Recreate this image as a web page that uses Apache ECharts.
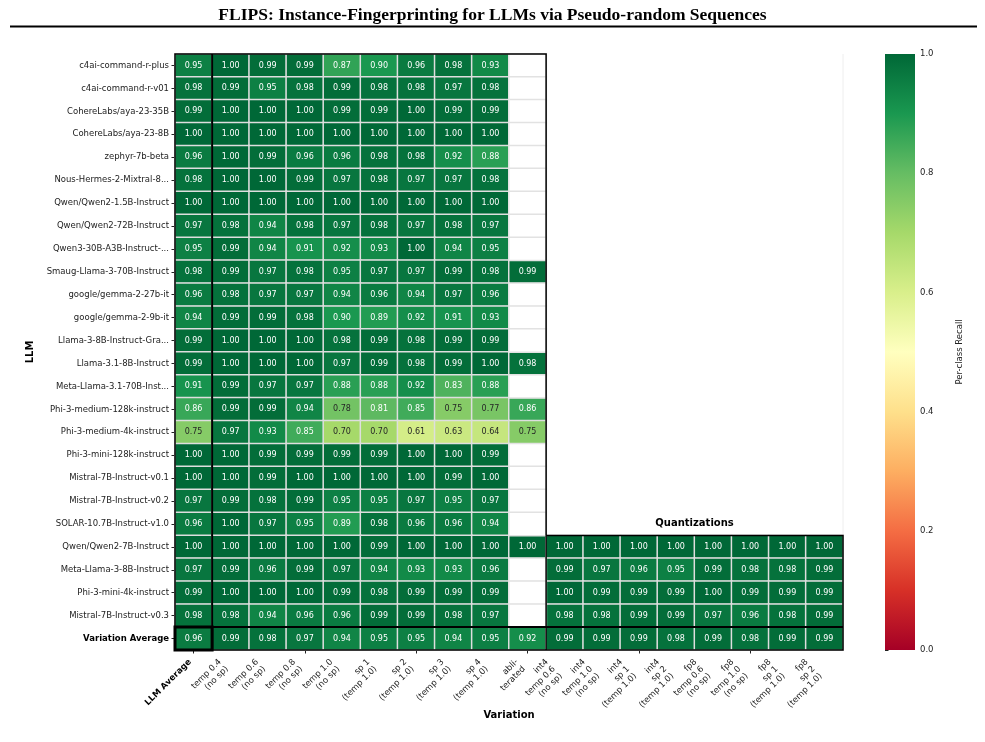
<!DOCTYPE html>
<html>
<head>
<meta charset="utf-8">
<script src="https://cdn.jsdelivr.net/npm/echarts@6/dist/echarts.min.js"></script>
<style>
  html, body { margin: 0; padding: 0; background: #fff; }
  #chart { width: 985px; height: 742px; }
</style>
</head>
<body>
<div id="chart"></div>
<script>
// 行：模型
const models = [
  "c4ai-command-r-plus", "c4ai-command-r-v01", "CohereLabs/aya-23-35B", "CohereLabs/aya-23-8B",
  "zephyr-7b-beta", "Nous-Hermes-2-Mixtral-8...", "Qwen/Qwen2-1.5B-Instruct", "Qwen/Qwen2-72B-Instruct",
  "Qwen3-30B-A3B-Instruct-...", "Smaug-Llama-3-70B-Instruct", "google/gemma-2-27b-it", "google/gemma-2-9b-it",
  "Llama-3-8B-Instruct-Gra...", "Llama-3.1-8B-Instruct", "Meta-Llama-3.1-70B-Inst...", "Phi-3-medium-128k-instruct",
  "Phi-3-medium-4k-instruct", "Phi-3-mini-128k-instruct", "Mistral-7B-Instruct-v0.1", "Mistral-7B-Instruct-v0.2",
  "SOLAR-10.7B-Instruct-v1.0", "Qwen/Qwen2-7B-Instruct", "Meta-Llama-3-8B-Instruct", "Phi-3-mini-4k-instruct",
  "Mistral-7B-Instruct-v0.3", "Variation Average",
];

// 列：变体
const variations = [
  "LLM Average",
  "temp 0.4\n(no sp)", "temp 0.6\n(no sp)", "temp 0.8\n(no sp)", "temp 1.0\n(no sp)",
  "sp 1\n(temp 1.0)", "sp 2\n(temp 1.0)", "sp 3\n(temp 1.0)", "sp 4\n(temp 1.0)",
  "abli-\nterated",
  "int4\ntemp 0.6\n(no sp)", "int4\ntemp 1.0\n(no sp)", "int4\nsp 1\n(temp 1.0)", "int4\nsp 2\n(temp 1.0)",
  "fp8\ntemp 0.6\n(no sp)", "fp8\ntemp 1.0\n(no sp)", "fp8\nsp 1\n(temp 1.0)", "fp8\nsp 2\n(temp 1.0)",
];

const llmAverage = [
  0.95, 0.98, 0.99, 1.00, 0.96, 0.98, 1.00, 0.97, 0.95, 0.98, 0.96, 0.94, 0.99,
  0.99, 0.91, 0.86, 0.75, 1.00, 1.00, 0.97, 0.96, 1.00, 0.97, 0.99, 0.98, 0.96,
];

// temp 0.4 .. sp 4
const samplingScores = [
  [1.00, 0.99, 0.99, 0.87, 0.90, 0.96, 0.98, 0.93],
  [0.99, 0.95, 0.98, 0.99, 0.98, 0.98, 0.97, 0.98],
  [1.00, 1.00, 1.00, 0.99, 0.99, 1.00, 0.99, 0.99],
  [1.00, 1.00, 1.00, 1.00, 1.00, 1.00, 1.00, 1.00],
  [1.00, 0.99, 0.96, 0.96, 0.98, 0.98, 0.92, 0.88],
  [1.00, 1.00, 0.99, 0.97, 0.98, 0.97, 0.97, 0.98],
  [1.00, 1.00, 1.00, 1.00, 1.00, 1.00, 1.00, 1.00],
  [0.98, 0.94, 0.98, 0.97, 0.98, 0.97, 0.98, 0.97],
  [0.99, 0.94, 0.91, 0.92, 0.93, 1.00, 0.94, 0.95],
  [0.99, 0.97, 0.98, 0.95, 0.97, 0.97, 0.99, 0.98],
  [0.98, 0.97, 0.97, 0.94, 0.96, 0.94, 0.97, 0.96],
  [0.99, 0.99, 0.98, 0.90, 0.89, 0.92, 0.91, 0.93],
  [1.00, 1.00, 1.00, 0.98, 0.99, 0.98, 0.99, 0.99],
  [1.00, 1.00, 1.00, 0.97, 0.99, 0.98, 0.99, 1.00],
  [0.99, 0.97, 0.97, 0.88, 0.88, 0.92, 0.83, 0.88],
  [0.99, 0.99, 0.94, 0.78, 0.81, 0.85, 0.75, 0.77],
  [0.97, 0.93, 0.85, 0.70, 0.70, 0.61, 0.63, 0.64],
  [1.00, 0.99, 0.99, 0.99, 0.99, 1.00, 1.00, 0.99],
  [1.00, 0.99, 1.00, 1.00, 1.00, 1.00, 0.99, 1.00],
  [0.99, 0.98, 0.99, 0.95, 0.95, 0.97, 0.95, 0.97],
  [1.00, 0.97, 0.95, 0.89, 0.98, 0.96, 0.96, 0.94],
  [1.00, 1.00, 1.00, 1.00, 0.99, 1.00, 1.00, 1.00],
  [0.99, 0.96, 0.99, 0.97, 0.94, 0.93, 0.93, 0.96],
  [1.00, 1.00, 1.00, 0.99, 0.98, 0.99, 0.99, 0.99],
  [0.98, 0.94, 0.96, 0.96, 0.99, 0.99, 0.98, 0.97],
  [0.99, 0.98, 0.97, 0.94, 0.95, 0.95, 0.94, 0.95],
];

const abliterated = [
  null, null, null, null, null, null, null, null, null, 0.99, null, null, null,
  0.98, null, 0.86, 0.75, null, null, null, null, 1.00, null, null, null, 0.92,
];

// 量化（只有最后 5 行）
const quantFirstRow = 21;
const quantScores = [
  [1.00, 1.00, 1.00, 1.00, 1.00, 1.00, 1.00, 1.00],
  [0.99, 0.97, 0.96, 0.95, 0.99, 0.98, 0.98, 0.99],
  [1.00, 0.99, 0.99, 0.99, 1.00, 0.99, 0.99, 0.99],
  [0.98, 0.98, 0.99, 0.99, 0.97, 0.96, 0.98, 0.99],
  [0.99, 0.99, 0.99, 0.98, 0.99, 0.98, 0.99, 0.99],
];

const cbarTicks = [0, 0.2, 0.4, 0.6, 0.8, 1.0];

// 布局
const G = { left: 175, top: 54, width: 668, height: 596 };
const CB = { left: 885, top: 54, width: 30, height: 596 };
const FONT = "DejaVu Sans";
const LABEL_LH = 10;
const RdYlGn = [
  "#a50026", "#d73027", "#f46d43", "#fdae61", "#fee08b", "#ffffbf",
  "#d9ef8b", "#a6d96a", "#66bd63", "#1a9850", "#006837",
];

const cells = [];
const blanks = [];
models.forEach((m, r) => {
  cells.push([0, r, llmAverage[r]]);
  samplingScores[r].forEach((v, k) => cells.push([1 + k, r, v]));
  if (abliterated[r] == null) blanks.push([9, r, 0]);
  else cells.push([9, r, abliterated[r]]);
  if (r >= quantFirstRow) {
    quantScores[r - quantFirstRow].forEach((v, k) => cells.push([10 + k, r, v]));
  }
});

const options = {
  animation: false,
  title: {
    text: "FLIPS: Instance-Fingerprinting for LLMs via Pseudo-random Sequences",
    left: "center",
    top: 1,
    textStyle: { fontFamily: "Liberation Serif", fontWeight: "bold", fontSize: 17.5, color: "#000" },
  },
  grid: [
    { left: G.left, top: G.top, width: G.width, height: G.height },
    { left: CB.left, top: CB.top, width: CB.width, height: CB.height },
  ],
  xAxis: [
    {
      type: "category",
      data: variations,
      gridIndex: 0,
      name: "Variation",
      nameLocation: "middle",
      nameGap: 60,
      nameTextStyle: { fontFamily: FONT, fontWeight: "bold", fontSize: 10, color: "#000" },
      axisLine: { show: false },
      axisTick: { show: true, alignWithLabel: true, length: 3.5, lineStyle: { color: "#222" } },
      axisLabel: { show: false },
      splitLine: { show: false },
    },
    {
      type: "value",
      gridIndex: 1,
      min: 0,
      max: 1,
      axisLine: { show: false },
      axisTick: { show: false },
      axisLabel: { show: false },
      splitLine: { show: false },
    },
  ],
  yAxis: [
    {
      type: "category",
      data: models,
      inverse: true,
      gridIndex: 0,
      name: "LLM",
      nameLocation: "middle",
      nameRotate: 90,
      nameGap: 122,
      nameTextStyle: { fontFamily: FONT, fontWeight: "bold", fontSize: 10, color: "#000" },
      axisLine: { show: false },
      axisTick: { show: true, alignWithLabel: true, length: 3.5, lineStyle: { color: "#222" } },
      axisLabel: {
        interval: 0,
        margin: 6,
        fontFamily: FONT,
        fontSize: 8.5,
        color: "#222",
        formatter: (val) => (val === "Variation Average" ? "{b|" + val + "}" : val),
        rich: { b: { fontFamily: FONT, fontWeight: "bold", fontSize: 8.5, color: "#000" } },
      },
      splitLine: { show: false },
    },
    {
      type: "value",
      gridIndex: 1,
      position: "right",
      min: 0,
      max: 1,
      interval: 0.2,
      name: "Per-class Recall",
      nameLocation: "middle",
      nameRotate: 90,
      nameGap: 40,
      nameTextStyle: { fontFamily: FONT, fontSize: 8.5, color: "#222" },
      axisLine: { show: false },
      axisTick: { show: true, length: 3.5, lineStyle: { color: "#222" } },
      axisLabel: {
        margin: 5,
        fontFamily: FONT,
        fontSize: 8.5,
        color: "#222",
        formatter: (v) => (cbarTicks.includes(Math.round(v * 10) / 10) ? v.toFixed(1) : ""),
      },
      splitLine: { show: false },
    },
  ],
  visualMap: {
    type: "continuous",
    show: false,
    seriesIndex: 0,
    dimension: 2,
    min: 0,
    max: 1,
    inRange: { color: RdYlGn },
  },
  series: [
    {
      type: "heatmap",
      data: cells,
      xAxisIndex: 0,
      yAxisIndex: 0,
      itemStyle: { borderColor: "#dedede", borderWidth: 1.5 },
      emphasis: { disabled: true },
      label: {
        show: true,
        formatter: (p) => (p.value[2] >= 0.8 ? "{w|" : "{d|") + p.value[2].toFixed(2) + "}",
        rich: {
          w: { color: "#fff", fontFamily: FONT, fontSize: 8 },
          d: { color: "#262626", fontFamily: FONT, fontSize: 8 },
        },
      },
    },
    {
      type: "heatmap",
      data: blanks,
      xAxisIndex: 0,
      yAxisIndex: 0,
      itemStyle: { color: "#fff", borderColor: "#e2e2e2", borderWidth: 1.5 },
      emphasis: { disabled: true },
      silent: true,
    },
  ],
};

const chart = echarts.init(document.getElementById("chart"));
chart.setOption(options);

// 分隔线（黑框）
const cw = G.width / variations.length;
const ch = G.height / models.length;
const xE = (c) => G.left + c * cw;
const yE = (r) => G.top + r * ch;
const line = (x1, y1, x2, y2, w, color) => ({
  type: "line",
  z: 100,
  silent: true,
  shape: { x1, y1, x2, y2 },
  style: { stroke: color || "#000", lineWidth: w },
});
const nCol = variations.length;
const nRow = models.length;

// x 轴标签：45° 旋转，外框右上角对齐刻度（仿 matplotlib ha="right"）
const labelTop = yE(nRow) + 7;
const xLabels = variations.map((v, i) => {
  const tx = chart.convertToPixel({ xAxisIndex: 0 }, i);
  const h = v.split("\n").length * LABEL_LH;
  return {
    type: "text",
    z: 100,
    silent: true,
    x: tx,
    y: labelTop + h / Math.SQRT2,
    rotation: Math.PI / 4,
    style: {
      text: v,
      fontFamily: FONT,
      fontSize: 8.5,
      fontWeight: i === 0 ? "bold" : "normal",
      lineHeight: LABEL_LH,
      fill: i === 0 ? "#000" : "#222",
      align: "right",
      verticalAlign: "bottom",
    },
  };
});

// 色条（渐变，1.0 在上）
const colorbar = {
  type: "rect",
  z: 50,
  silent: true,
  shape: { x: CB.left, y: CB.top, width: CB.width, height: CB.height },
  style: {
    fill: new echarts.graphic.LinearGradient(
      0, 0, 0, 1,
      RdYlGn.slice().reverse().map((c, k) => ({ offset: k / (RdYlGn.length - 1), color: c }))
    ),
  },
};

chart.setOption({
  graphic: [
    colorbar,
    line(xE(nCol), yE(0), xE(nCol), yE(quantFirstRow), 1, "#eeeeee"),
    {
      type: "polyline",
      z: 100,
      silent: true,
      shape: {
        points: [
          [xE(10), yE(quantFirstRow)], [xE(10), yE(0)], [xE(0), yE(0)], [xE(0), yE(nRow)],
          [xE(nCol), yE(nRow)], [xE(nCol), yE(quantFirstRow)], [xE(10), yE(quantFirstRow)],
        ],
      },
      style: { stroke: "#000", lineWidth: 1.5, fill: null },
    },
    line(xE(10), yE(quantFirstRow), xE(10), yE(nRow), 1.5),
    line(xE(1), yE(0), xE(1), yE(nRow), 2),
    line(xE(0), yE(nRow - 1), xE(nCol), yE(nRow - 1), 2),
    {
      type: "rect",
      z: 101,
      silent: true,
      shape: { x: xE(0), y: yE(nRow - 1), width: cw, height: ch },
      style: { stroke: "#000", lineWidth: 3, fill: null },
    },
    {
      type: "text",
      z: 100,
      silent: true,
      x: (xE(10) + xE(nCol)) / 2,
      y: yE(quantFirstRow) - 12,
      style: {
        text: "Quantizations",
        fontFamily: FONT,
        fontWeight: "bold",
        fontSize: 10,
        fill: "#000",
        align: "center",
        verticalAlign: "middle",
      },
    },
    line(10, 26.5, 977, 26.5, 2),
    ...xLabels,
  ],
});

window.addEventListener("resize", () => {
  chart.resize();
});
</script>
</body>
</html>
